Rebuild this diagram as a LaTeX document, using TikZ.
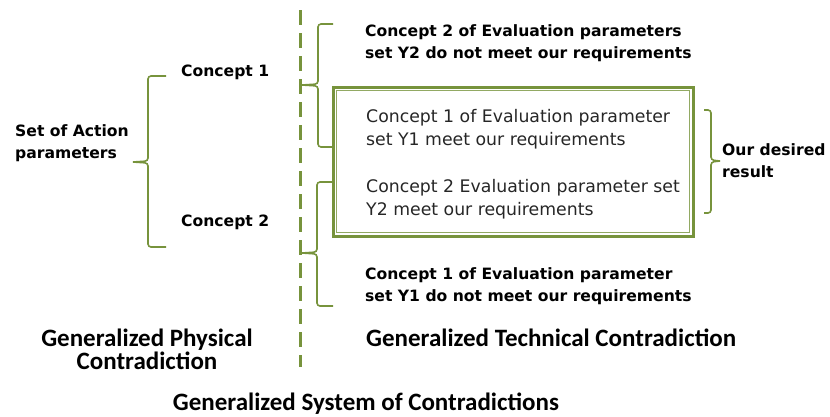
\documentclass[tikz,border=0pt]{standalone}
\usepackage{fontspec}
\setmainfont{DejaVu Sans}
\newfontfamily\carlito{Carlito}
\definecolor{olivegreen}{RGB}{119,147,60}
\begin{document}
\begin{tikzpicture}[x=1pt,y=-1pt,
  brace/.style={draw=olivegreen, line width=1.6pt, rounded corners=3pt},
  boldtxt/.style={font=\bfseries\fontsize{15.6}{22}\selectfont, align=left, anchor=west, inner sep=0pt, text=black},
  boxtxt/.style={font=\fontsize{17.3}{23}\selectfont, align=left, anchor=west, inner sep=0pt, text=black!85},
  bigtxt/.style={font=\carlito\bfseries\fontsize{25}{23}\selectfont, inner sep=0pt, text=black},
  divider/.style={draw=olivegreen, line width=3pt, dash pattern=on 15pt off 8pt}]
\useasboundingbox (0,0) rectangle (830,416);

% dashed divider
\coordinate (dtop) at (300,10);
\coordinate (dbot) at (300,367);
\draw[divider] (dtop) -- (dbot);

% left side
\node[boldtxt] (action) at (15,143) {Set of Action\\parameters};
\node[boldtxt] (c1) at (181,72) {Concept 1};
\node[boldtxt] (c2) at (181,222) {Concept 2};
\draw[brace] (166,76) -- (148,76) -- (148,161) -- (133,162);
\draw[brace] (133,162) -- (148,163) -- (148,247) -- (166,247);

% top right
\node[boldtxt] (notY2) at (365,43) {Concept 2 of Evaluation parameters\\set Y2 do not meet our requirements};
\draw[brace] (333,24) -- (318,24) -- (318,84) -- (302,85);
\draw[brace] (302,85) -- (318,86) -- (318,147) -- (333,147);

% box
\node[draw=olivegreen, line width=3pt, minimum width=360pt, minimum height=149pt, inner sep=0pt] (box) at (513,161.5) {};
\draw[olivegreen!80, line width=1pt] ([shift={(5,5)}]box.north west) rectangle ([shift={(-5,-5)}]box.south east);
\node[boxtxt] (y1) at (366,129.5) {Concept 1 of Evaluation parameter\\set Y1 meet our requirements};
\node[boxtxt] (y2) at (366,199) {Concept 2 Evaluation parameter set\\Y2 meet our requirements};

% right brace
\node[boldtxt] (desired) at (722,161) {Our desired\\result};
\draw[brace] (704,110) -- (711,110) -- (711,160) -- (720,161);
\draw[brace] (720,161) -- (711,162) -- (711,213) -- (704,213);

% bottom right
\node[boldtxt] (notY1) at (365,286) {Concept 1 of Evaluation parameter\\set Y1 do not meet our requirements};
\draw[brace] (333,182) -- (317,182) -- (317,252) -- (302,253);
\draw[brace] (302,253) -- (317,254) -- (317,306) -- (333,306);

% bottom labels
\node[bigtxt, align=center] (phys) at (147,349) {Generalized Physical\\Contradiction};
\node[bigtxt, anchor=west] (tech) at (366,338) {Generalized Technical Contradiction};
\node[bigtxt] (sys) at (366,404) {Generalized System of Contradictions};
\end{tikzpicture}
\end{document}
